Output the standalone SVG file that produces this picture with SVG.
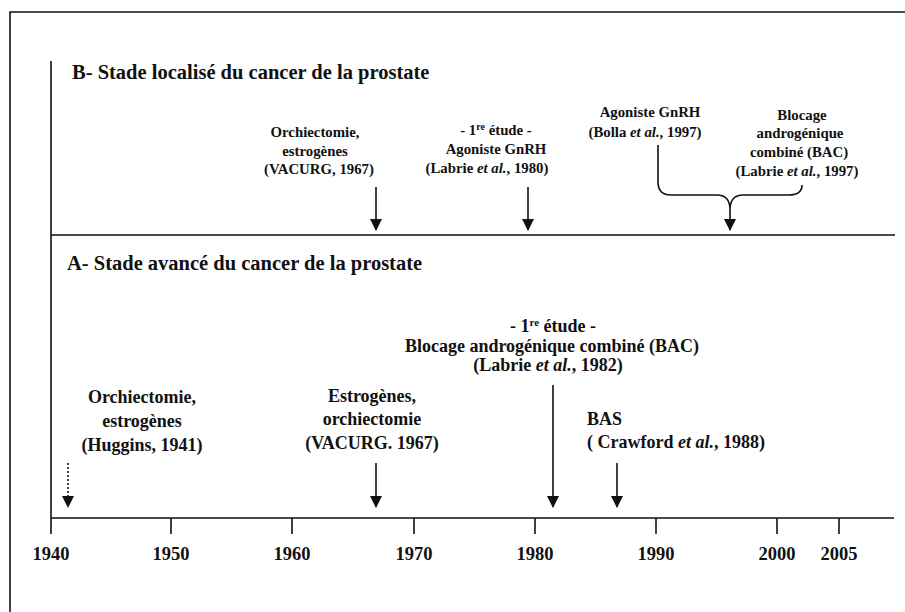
<svg xmlns="http://www.w3.org/2000/svg" width="905" height="612" viewBox="0 0 905 612" font-family="Liberation Serif, DejaVu Serif, serif">
<style>
text{font-family:"Liberation Serif","DejaVu Serif",serif;font-weight:bold;fill:#111}
.title{font-size:20.5px}
.b{font-size:14.8px;text-anchor:middle}
.a{font-size:18px;text-anchor:middle}
.al{font-size:18px}
.yr{font-size:18.5px;text-anchor:middle}
.ln{stroke:#111;stroke-width:1.6;fill:none}
.it{font-style:italic}
</style>
<defs>
<marker id="ah" viewBox="0 0 12 12" markerWidth="12" markerHeight="12" refX="11" refY="6" orient="auto" markerUnits="userSpaceOnUse">
<path d="M0,0 L12,6 L0,12 z" fill="#111"/>
</marker>
</defs>
<rect width="905" height="612" fill="#fff"/>
<g id="frame"><path class="ln" d="M10,612 V12 H905" stroke-width="2"/></g>
<g id="axes">
<path class="ln" d="M51,61 V534 M51,518 H894 M51,235 H895"/>
<path class="ln" d="M171,518 V534 M292,518 V534 M414,518 V534 M535,518 V534 M656,518 V534 M777,518 V534 M839,518 V534"/>
</g>
<g id="years">
<text class="yr" x="51" y="560">1940</text>
<text class="yr" x="171" y="560">1950</text>
<text class="yr" x="292" y="560">1960</text>
<text class="yr" x="414" y="560">1970</text>
<text class="yr" x="535" y="560">1980</text>
<text class="yr" x="656" y="560">1990</text>
<text class="yr" x="777" y="560">2000</text>
<text class="yr" x="839" y="560">2005</text>
</g>
<g id="titles">
<text class="title" x="72" y="79">B- Stade localisé du cancer de la prostate</text>
<text class="title" x="67" y="270">A- Stade avancé du cancer de la prostate</text>
</g>
<g id="b1">
<text class="b" x="315" y="137">Orchiectomie,</text>
<text class="b" x="315" y="156">estrogènes</text>
<text class="b" x="319" y="174">(VACURG, 1967)</text>
</g>
<g id="b2">
<text class="b" x="496" y="135">- 1<tspan font-size="10" dy="-5">re</tspan><tspan dy="5"> étude -</tspan></text>
<text class="b" x="496" y="154">Agoniste GnRH</text>
<text class="b" x="487" y="173">(Labrie <tspan class="it">et al.</tspan>, 1980)</text>
</g>
<g id="b3">
<text class="b" x="650" y="117">Agoniste GnRH</text>
<text class="b" x="645" y="137">(Bolla <tspan class="it">et al.</tspan>, 1997)</text>
</g>
<g id="b4">
<text class="b" x="802" y="120">Blocage</text>
<text class="b" x="800" y="138">androgénique</text>
<text class="b" x="799" y="157">combiné (BAC)</text>
<text class="b" x="797" y="176">(Labrie <tspan class="it">et al.</tspan>, 1997)</text>
</g>
<g id="a1">
<text class="a" x="142" y="403">Orchiectomie,</text>
<text class="a" x="142" y="427">estrogènes</text>
<text class="a" x="142" y="451">(Huggins, 1941)</text>
</g>
<g id="a2">
<text class="a" x="372" y="402">Estrogènes,</text>
<text class="a" x="372" y="425">orchiectomie</text>
<text class="a" x="372" y="449">(VACURG. 1967)</text>
</g>
<g id="a3">
<text class="a" x="553" y="332">- 1<tspan font-size="11" dy="-6">re</tspan><tspan dy="6"> étude -</tspan></text>
<text class="a" x="552" y="352">Blocage androgénique combiné (BAC)</text>
<text class="a" x="548" y="371">(Labrie <tspan class="it">et al.</tspan>, 1982)</text>
</g>
<g id="a4">
<text class="al" x="587" y="425">BAS</text>
<text class="al" x="587" y="448">( Crawford <tspan class="it">et al.</tspan>, 1988)</text>
</g>
<g id="connectors">
<path class="ln" d="M376,187 V230" marker-end="url(#ah)"/>
<path class="ln" d="M528,187 V230" marker-end="url(#ah)"/>
<path class="ln" d="M658,145 V182 Q658,195 671,195 H717 Q730,195 730,210 M802,185 Q802,195 789,195 H743 Q730,195 730,210 V230" marker-end="url(#ah)"/>
<path class="ln" d="M68,463 V507" stroke-dasharray="2,2" marker-end="url(#ah)"/>
<path class="ln" d="M376,463 V507" marker-end="url(#ah)"/>
<path class="ln" d="M553,385 V507" marker-end="url(#ah)"/>
<path class="ln" d="M617,463 V507" marker-end="url(#ah)"/>
</g>
</svg>
